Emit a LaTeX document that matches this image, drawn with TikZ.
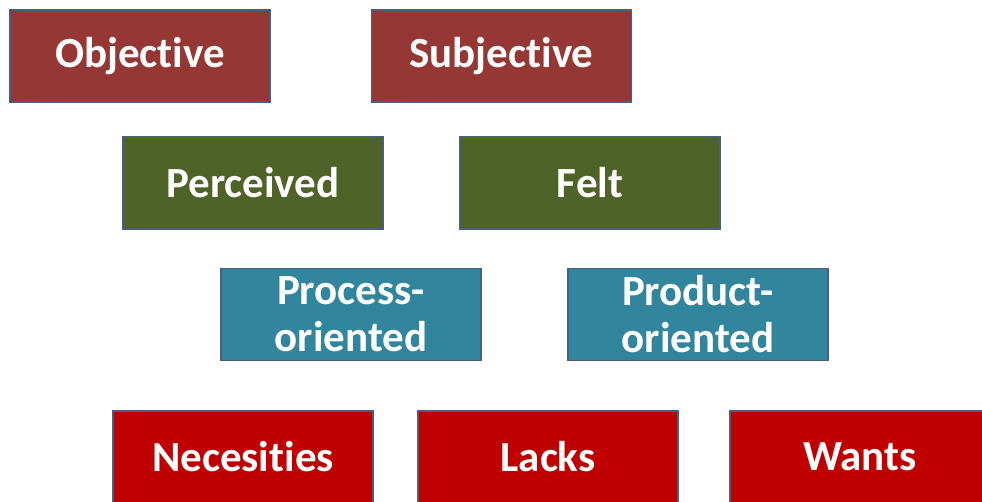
\documentclass[tikz,border=0pt]{standalone}
\usepackage{fontspec}
\setmainfont[Ligatures=CommonOff]{Carlito}
\definecolor{darkred}{HTML}{953735}
\definecolor{olive}{HTML}{4F6228}
\definecolor{teal2}{HTML}{31859C}
\definecolor{brightred}{HTML}{C00000}
\definecolor{edge}{HTML}{4A5E80}
\begin{document}
\begin{tikzpicture}[x=1pt,y=-1pt,
  box/.style={draw=edge,line width=1.3pt,rectangle,inner sep=0pt,
    minimum width=260pt,minimum height=92pt,text=white,
    font=\fontsize{43}{47}\selectfont\bfseries,align=center}]
\useasboundingbox (0,0) rectangle (982,502);
\clip (0,0) rectangle (982,502);
\node[box,fill=darkred] (obj) at (140,56) {Objective};
\node[box,fill=darkred] (subj) at (501.5,56) {Subjective};
\node[box,fill=olive] (perc) at (253,183) {Perceived};
\node[box,fill=olive] (felt) at (590,183) {Felt};
\node[box,fill=teal2] (proc) at (351,314.5) {Process-\\oriented};
\node[box,fill=teal2] (prod) at (698,314.5) {Product-\\oriented};
\node[box,fill=brightred] (nec) at (243,457) {Necesities};
\node[box,fill=brightred] (lacks) at (548,457) {Lacks};
\node[box,fill=brightred] (wants) at (860,457) {Wants};
\end{tikzpicture}
\end{document}
